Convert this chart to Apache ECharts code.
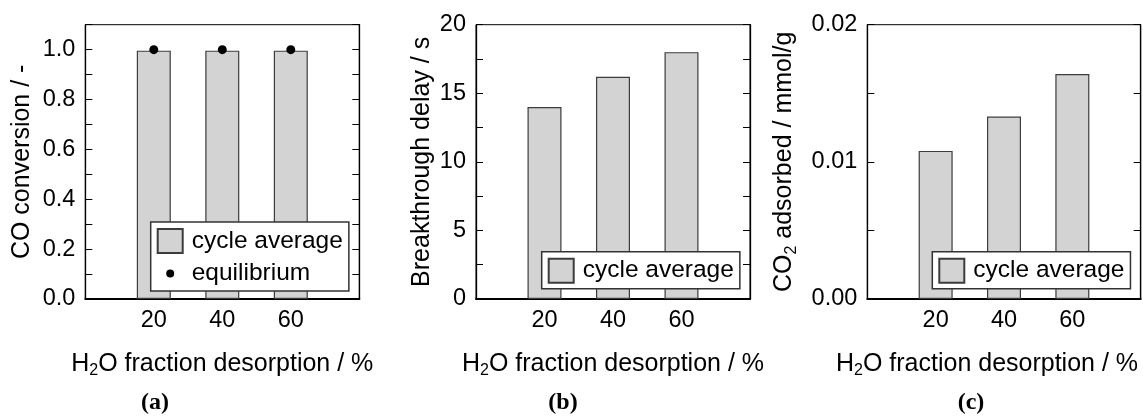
<!DOCTYPE html>
<html>
<head>
<meta charset="utf-8">
<script src="https://cdn.jsdelivr.net/npm/echarts@6/dist/echarts.min.js"></script>
<style>
html,body{margin:0;padding:0;background:#fff;}
#chart{width:1143px;height:419px;}
</style>
</head>
<body>
<div id="chart"></div>
<script>
// ---- data ----
const categories = [20, 40, 60];
const coConversion = [0.996, 0.996, 0.996];
const equilibrium = [1.0, 1.0, 1.0];
const breakthroughDelay = [14.0, 16.2, 18.0];
const co2Adsorbed = [0.0108, 0.0133, 0.0164];

const xTickLabels = [20, 40, 60];
const yTickLabelsA = [0.0, 0.2, 0.4, 0.6, 0.8, 1.0];
const yTickLabelsB = [0, 5, 10, 15, 20];
const yTickLabelsC = [0.00, 0.01, 0.02];

const panelLabels = ['a', 'b', 'c'];
const seriesName = 'cycle average';
const eqName = 'equilibrium';

// ---- styles ----
const FONT = 'Liberation Sans, Arial, sans-serif';
const FS_TICK = 23.5;
const FS_NAME = 25;
const FS_LEG = 24.5;
const nameRich = {
  n: {fontFamily: FONT, fontSize: FS_NAME, color: '#000', lineHeight: 30, verticalAlign: 'middle'},
  s: {fontFamily: FONT, fontSize: 16, color: '#000', lineHeight: 15, verticalAlign: 'bottom'}
};
const grids = [
  {left: 85.3, top: 24.7, width: 274, height: 274.3},
  {left: 476, top: 24.7, width: 274, height: 274.3},
  {left: 867.3, top: 24.7, width: 273.4, height: 274.3}
];
const xNamePad = [[0, 0, 0, 0], [0, 0, 0, 0], [0, 34, 0, 0]];
const yConf = [
  {max: 1.1, interval: 0.1, labels: yTickLabelsA, dec: 1, name: '{n|CO conversion / -}', gap: 48},
  {max: 20, interval: 2.5, labels: yTickLabelsB, dec: 0, name: '{n|Breakthrough delay / s}', gap: 38.5},
  {max: 0.02, interval: 0.005, labels: yTickLabelsC, dec: 2, name: '{n|CO}{s|2}{n| adsorbed / mmol/g}', gap: 68}
];
const values = [coConversion, breakthroughDelay, co2Adsorbed];

function inList(v, list) {
  return list.some(t => Math.abs(t - v) < 1e-9 * Math.max(1, Math.abs(t)) + 1e-12);
}

const xAxes = [], yAxes = [], series = [], legends = [], titles = [];
grids.forEach((g, i) => {
  xAxes.push({
    gridIndex: i, type: 'value', min: 0, max: 80, interval: 20,
    axisLine: {show: true, lineStyle: {color: '#000', width: 2}},
    axisTick: {show: false}, splitLine: {show: false},
    axisLabel: {
      margin: 10, fontFamily: FONT, fontSize: FS_TICK, color: '#000',
      formatter: v => inList(v, xTickLabels) ? String(v) : ''
    },
    name: '{n|H}{s|2}{n|O fraction desorption / %}',
    nameLocation: 'middle', nameGap: 50,
    nameTextStyle: {rich: nameRich, padding: xNamePad[i]}
  });
  const c = yConf[i];
  yAxes.push({
    gridIndex: i, type: 'value', position: 'left', min: 0, max: c.max, interval: c.interval,
    axisLine: {show: true, lineStyle: {color: '#000', width: 1.3}},
    axisTick: {show: true, inside: true, length: 7, lineStyle: {color: '#000', width: 1}},
    splitLine: {show: false},
    axisLabel: {
      margin: 10, fontFamily: FONT, fontSize: FS_TICK, color: '#000',
      formatter: v => inList(v, c.labels) ? v.toFixed(c.dec) : ''
    },
    name: c.name, nameLocation: 'middle', nameGap: c.gap,
    nameTextStyle: {rich: nameRich}
  });
  yAxes.push({
    gridIndex: i, type: 'value', position: 'right', min: 0, max: c.max, interval: c.interval,
    axisLine: {show: true, lineStyle: {color: '#000', width: 1.3}},
    axisTick: {show: true, inside: true, length: 7, lineStyle: {color: '#000', width: 1}},
    splitLine: {show: false}, axisLabel: {show: false}
  });
  series.push({
    name: seriesName, type: 'bar', xAxisIndex: i, yAxisIndex: 2 * i,
    barWidth: 34,
    itemStyle: {color: '#d3d3d3', borderColor: '#3c3c3c', borderWidth: 1.2},
    data: categories.map((x, k) => [x, values[i][k]]),
    z: 2
  });
  titles.push({
    text: '{p|(}{b|' + panelLabels[i] + '}{p|)}',
    left: [155, 563, 971][i], top: 391, textAlign: 'center', padding: 0,
    textStyle: {rich: {
      p: {fontFamily: 'Liberation Serif, serif', fontSize: 24, color: '#000'},
      b: {fontFamily: 'Liberation Serif, serif', fontSize: 24, fontWeight: 'bold', color: '#000'}
    }}
  });
});

series.push({
  name: eqName, type: 'scatter', xAxisIndex: 0, yAxisIndex: 0,
  symbol: 'circle', symbolSize: 9,
  itemStyle: {color: '#000', opacity: 1},
  data: categories.map((x, k) => [x, equilibrium[k]]),
  z: 5
});

const legendBase = {
  orient: 'vertical', itemWidth: 25, itemHeight: 24, itemGap: 7,
  padding: [6, 6, 5, 6], borderColor: '#333', borderWidth: 1.5,
  backgroundColor: '#fff', borderRadius: 0, selectedMode: false,
  textStyle: {fontFamily: FONT, fontSize: FS_LEG, color: '#000', padding: [0, 0, 0, 4]}
};
const dotIcon = 'path://M8.5,12a4,4 0 1,0 8,0a4,4 0 1,0 -8,0Z M0,0L0.01,0L0.01,0.01Z M25,24L24.99,24L24.99,23.99Z';
legends.push(Object.assign({}, legendBase, {
  left: 150.7, top: 222,
  data: [{name: seriesName, icon: 'rect'}, {name: eqName, icon: dotIcon}]
}));
legends.push(Object.assign({}, legendBase, {
  left: 541.7, top: 251.7, data: [{name: seriesName, icon: 'rect'}]
}));
legends.push(Object.assign({}, legendBase, {
  left: 932.3, top: 251.7, data: [{name: seriesName, icon: 'rect'}]
}));

const chart = echarts.init(document.getElementById('chart'), null, {renderer: 'canvas'});
chart.setOption({
  animation: false,
  backgroundColor: '#fff',
  title: titles,
  grid: grids.map(g => Object.assign({
    show: true, borderColor: '#000', borderWidth: 1, backgroundColor: 'transparent',
    containLabel: false, outerBoundsMode: 'none'
  }, g)),
  xAxis: xAxes,
  yAxis: yAxes,
  legend: legends,
  series: series
});
</script>
</body>
</html>
